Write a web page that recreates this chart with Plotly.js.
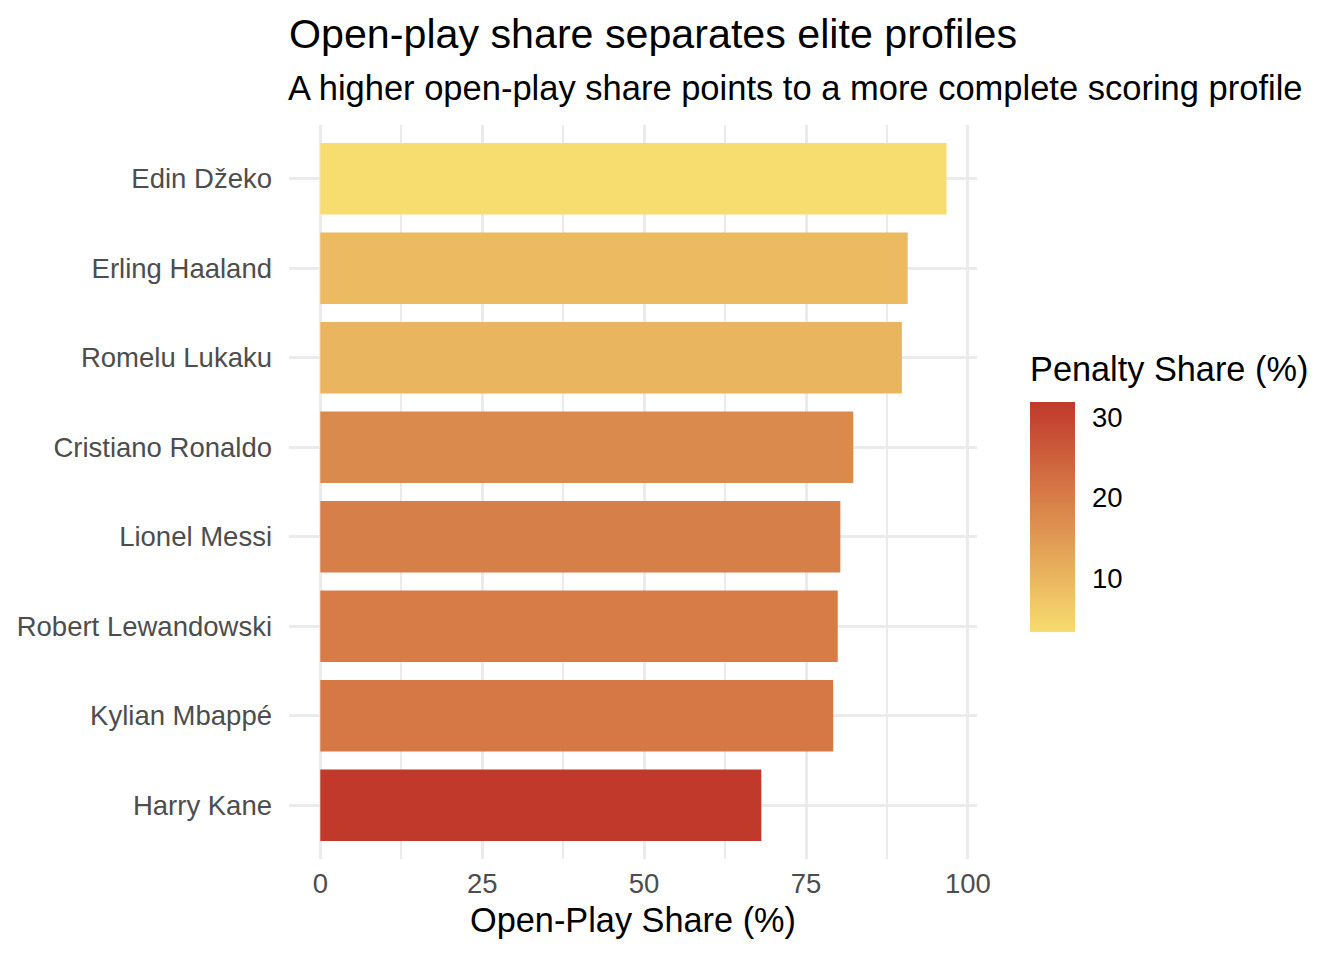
<!DOCTYPE html>
<html>
<head>
<meta charset="utf-8">
<script src="https://cdn.plot.ly/plotly-3.0.1.min.js"></script>
<style>
  html, body { margin: 0; padding: 0; background: #ffffff; }
  #grafico { width: 1344px; height: 960px; }
</style>
</head>
<body>
<div id="grafico"></div>
<script>
// Jugadores, de abajo hacia arriba
const jugadores = [
  'Harry Kane', 'Kylian Mbappé', 'Robert Lewandowski', 'Lionel Messi',
  'Cristiano Ronaldo', 'Romelu Lukaku', 'Erling Haaland', 'Edin Džeko'
];
const juegoAbierto = [68.1, 79.2, 79.9, 80.3, 82.3, 89.8, 90.7, 96.7];
const penales = [31.9, 20.8, 20.1, 19.7, 17.7, 10.2, 9.3, 3.3];
const ticksX = [0, 25, 50, 75, 100];
const ticksColor = [10, 20, 30];

const fuente = 'Liberation Sans, Arial, sans-serif';

const traza = {
  type: 'bar',
  orientation: 'h',
  x: juegoAbierto,
  y: jugadores,
  width: 0.8,
  hoverinfo: 'x+y',
  marker: {
    color: penales,
    cmin: Math.min(...penales),
    cmax: Math.max(...penales),
    colorscale: [[0, '#F7DC6F'], [1, '#C0392B']],
    line: { width: 0 },
    colorbar: {
      thickness: 45,
      thicknessmode: 'pixels',
      len: 230,
      lenmode: 'pixels',
      x: 1.077,
      xanchor: 'left',
      xpad: 0,
      y: (859 - 517) / 734,
      yanchor: 'middle',
      ypad: 0,
      outlinewidth: 0,
      tickvals: ticksColor,
      ticktext: ticksColor.map(String),
      ticks: 'outside',
      ticklen: 12,
      tickcolor: 'rgba(255,255,255,0)',
      tickfont: { family: fuente, size: 27.5, color: '#000000' }
    }
  }
};

const layout = {
  width: 1344,
  height: 960,
  paper_bgcolor: '#ffffff',
  plot_bgcolor: '#ffffff',
  margin: { l: 289, r: 367, t: 125, b: 101 },
  font: { family: fuente },
  showlegend: false,
  title: {
    text: 'Open-play share separates elite profiles',
    font: { family: fuente, size: 41.2, color: '#000000' },
    xref: 'paper',
    x: 0,
    xanchor: 'left',
    yref: 'container',
    y: 1 - 34 / 960,
    yanchor: 'middle'
  },
  annotations: [
    {
      text: 'A higher open-play share points to a more complete scoring profile',
      xref: 'paper',
      yref: 'paper',
      x: -3 / 688,
      xanchor: 'left',
      y: (859 - 88) / 734,
      yanchor: 'middle',
      showarrow: false,
      font: { family: fuente, size: 34.5, color: '#000000' }
    },
    {
      text: 'Penalty Share (%)',
      xref: 'paper',
      yref: 'paper',
      x: (1028 - 289) / 688,
      xanchor: 'left',
      y: (859 - 369) / 734,
      yanchor: 'middle',
      showarrow: false,
      font: { family: fuente, size: 34.3, color: '#000000' }
    }
  ],
  xaxis: {
    range: [-4.83, 101.4],
    tickvals: ticksX,
    ticktext: ticksX.map(String),
    showgrid: true,
    gridcolor: '#EBEBEB',
    gridwidth: 3,
    minor: { dtick: 12.5, tick0: 0, showgrid: true, gridcolor: '#EBEBEB', gridwidth: 1.6 },
    zeroline: false,
    showline: false,
    ticks: '',
    ticklabelstandoff: 5,
    tickfont: { family: fuente, size: 27.5, color: '#4D4D4D' },
    title: {
      text: 'Open-Play Share (%)',
      font: { family: fuente, size: 34.3, color: '#000000' },
      standoff: 10
    },
    fixedrange: true
  },
  yaxis: {
    type: 'category',
    categoryorder: 'array',
    categoryarray: jugadores,
    range: [-0.6, 7.6],
    showgrid: true,
    gridcolor: '#EBEBEB',
    gridwidth: 3,
    zeroline: false,
    showline: false,
    ticks: '',
    ticklabelstandoff: 16,
    tickfont: { family: fuente, size: 27.5, color: '#4D4D4D' },
    fixedrange: true
  }
};

Plotly.newPlot('grafico', [traza], layout, { displayModeBar: false, responsive: false });
</script>
</body>
</html>
